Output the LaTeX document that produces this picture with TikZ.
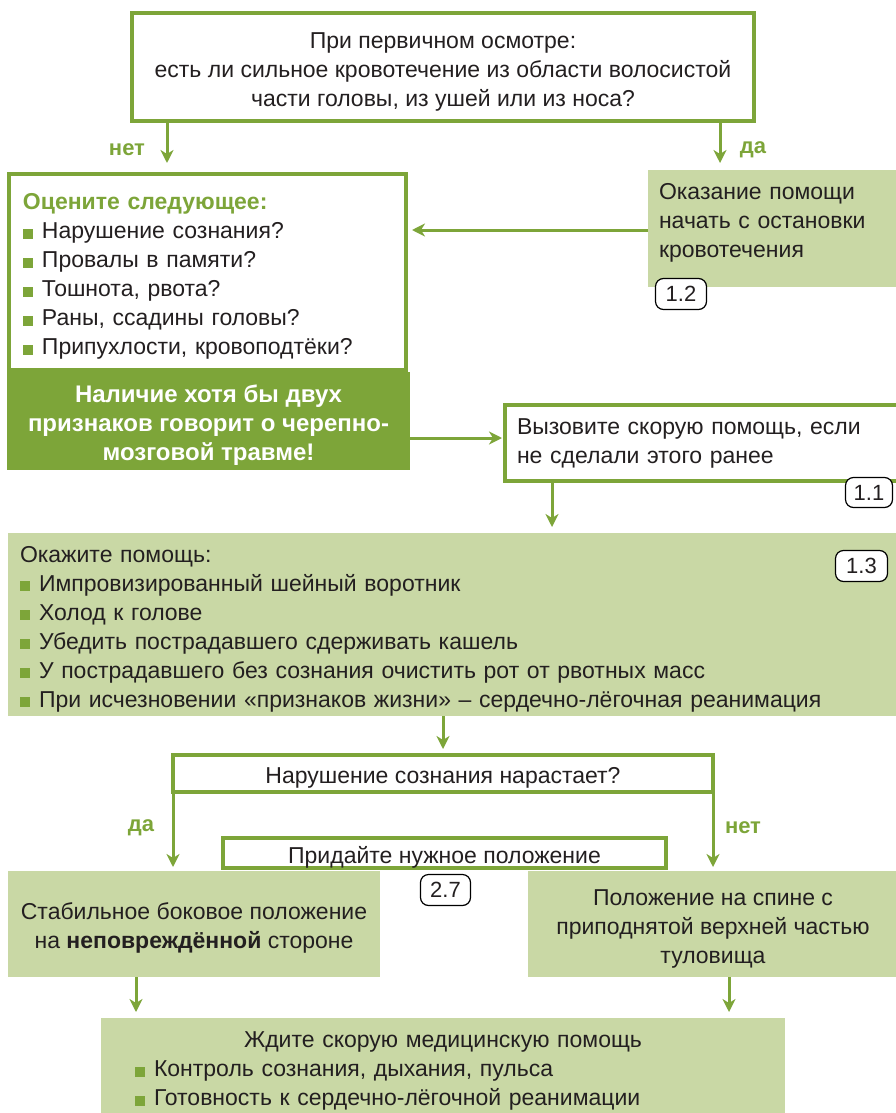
\documentclass[tikz,border=0pt]{standalone}
\usepackage{fontspec}
\setmainfont{Liberation Sans}
\usetikzlibrary{arrows.meta}
\definecolor{dg}{RGB}{125,165,57}
\definecolor{lg}{RGB}{201,216,165}
\definecolor{tc}{RGB}{35,31,32}
\newcommand\bul{\textcolor{dg}{\rule{10pt}{10pt}}\hspace{9pt}}
\newcommand\st{\rule{0pt}{25pt}}
\begin{document}
\begin{tikzpicture}[x=1pt,y=-1pt,
  txt/.style={font=\fontsize{23pt}{29pt}\selectfont, text=tc},
  wbox/.style={txt, draw=dg, line width=4pt, fill=white, inner sep=0pt, outer sep=0pt},
  gbox/.style={txt, fill=lg, inner sep=0pt, outer sep=0pt},
  badge/.style={draw=black, line width=1.2pt, fill=white, rounded corners=8pt, inner sep=0pt, outer sep=0pt, font=\fontsize{22pt}{24pt}\selectfont, text=tc},
  arr/.style={draw=dg, line width=3pt, -{Stealth[length=13pt,width=13pt,inset=4pt]}},
  lbl/.style={font=\fontsize{22pt}{26pt}\selectfont\bfseries, text=dg, inner sep=0pt}
]
\useasboundingbox (0,0) rectangle (895,1113);

\node[wbox, minimum width=622pt, minimum height=108pt, align=center] (top) at (443,67)
  {\rule{0pt}{26pt}При первичном осмотре:\\есть ли сильное кровотечение из области волосистой\\части головы, из ушей или из носа?};

\node[wbox, minimum width=397pt, minimum height=196pt, inner xsep=14pt, text width=369pt, align=left] (lbox) at (207.5,272)
  {\st\textcolor{dg}{\bfseries Оцените следующее:}\\\bul Нарушение сознания?\\\bul Провалы в памяти?\\\bul Тошнота, рвота?\\\bul Раны, ссадины головы?\\\bul Припухлости, кровоподтёки?};

\node[fill=dg, minimum width=403pt, minimum height=98pt, inner sep=0pt, outer sep=0pt, text=white, font=\fontsize{24pt}{29pt}\selectfont\bfseries, align=center] (lbot) at (208.5,421)
  {\st Наличие хотя бы двух\\признаков говорит о черепно-\\мозговой травме!};

\node[gbox, minimum width=250pt, minimum height=117pt, inner xsep=11pt, text width=228pt, align=left] (rbox) at (773,228.5)
  {Оказание помощи\\начать с остановки\\кровотечения\rule[-17pt]{0pt}{17pt}};

\node[wbox, minimum width=394pt, minimum height=76pt, inner xsep=12pt, text width=370pt, align=left] (call) at (702,443)
  {Вызовите скорую помощь, если\\не сделали этого ранее};

\node[gbox, minimum width=890pt, minimum height=183pt, inner xsep=12pt, text width=866pt, align=left] (help) at (453,624.5)
  {\st Окажите помощь:\\\bul Импровизированный шейный воротник\\\bul Холод к голове\\\bul Убедить пострадавшего сдерживать кашель\\\bul У пострадавшего без сознания очистить рот от рвотных масс\\\bul При исчезновении «признаков жизни» – сердечно-лёгочная реанимация};

\node[wbox, minimum width=540pt, minimum height=37pt] (q2) at (443,773.5) {\st Нарушение сознания нарастает?};
\node[wbox, minimum width=443pt, minimum height=28pt] (pos) at (444.5,853) {\st Придайте нужное положение};

\node[gbox, minimum width=372pt, minimum height=106pt, align=center] (lpos) at (194,924)
  {\st Стабильное боковое положение\\на \textbf{неповреждённой} стороне};
\node[gbox, minimum width=370pt, minimum height=106pt, align=center] (rpos) at (713,924)
  {\rule{0pt}{26pt}Положение на спине с\\приподнятой верхней частью\\туловища};

\node[gbox, minimum width=684pt, minimum height=102pt, inner xsep=34pt, text width=616pt, align=left] (wait) at (443,1069)
  {\rule{0pt}{20pt}\makebox[616pt][c]{Ждите скорую медицинскую помощь}\\\bul Контроль сознания, дыхания, пульса\\\bul Готовность к сердечно-лёгочной реанимации};

\node[badge, minimum width=51pt, minimum height=31pt] (b12) at (681,294) {1.2};
\node[badge, minimum width=47pt, minimum height=30pt] (b11) at (869,492.5) {1.1};
\node[badge, minimum width=52pt, minimum height=31pt] (b13) at (861.5,566) {1.3};
\node[badge, minimum width=50pt, minimum height=31pt] (b27) at (445.5,890) {2.7};

\draw[arr, shorten >=11pt] ([xshift=35pt]top.south west) -- ([xshift=35pt]top.south west |- lbox.north);
\draw[arr, shorten >=7pt] ([xshift=-34pt]top.south east) -- ([xshift=-34pt]top.south east |- rbox.north);
\draw[arr, shorten >=6pt] ([yshift=-1.5pt]rbox.west) -- ([yshift=-1.5pt]rbox.west -| lbox.east);
\draw[arr, shorten >=3pt] ([yshift=-17pt]lbot.east) -- ([yshift=-17pt]lbot.east -| call.west);
\draw[arr, shorten >=6pt] ([xshift=47pt]call.south west) -- ([xshift=47pt]call.south west |- help.north);
\draw[arr, shorten >=6pt] (q2.north |- help.south) -- (q2.north);
\draw[arr, shorten >=4pt] (q2.south west) -- (q2.south west |- lpos.north);
\draw[arr, shorten >=4pt] (q2.south east) -- (q2.south east |- rpos.north);
\draw[arr, shorten >=6pt] ([xshift=128pt]lpos.south west) -- ([xshift=128pt]lpos.south west |- wait.north);
\draw[arr, shorten >=6pt] ([xshift=201pt]rpos.south west) -- ([xshift=201pt]rpos.south west |- wait.north);

\node[lbl] (no1) at (127,150) {нет};
\node[lbl] (yes1) at (753,150) {да};
\node[lbl] (yes2) at (141,828) {да};
\node[lbl] (no2) at (743,828) {нет};
\end{tikzpicture}
\end{document}
